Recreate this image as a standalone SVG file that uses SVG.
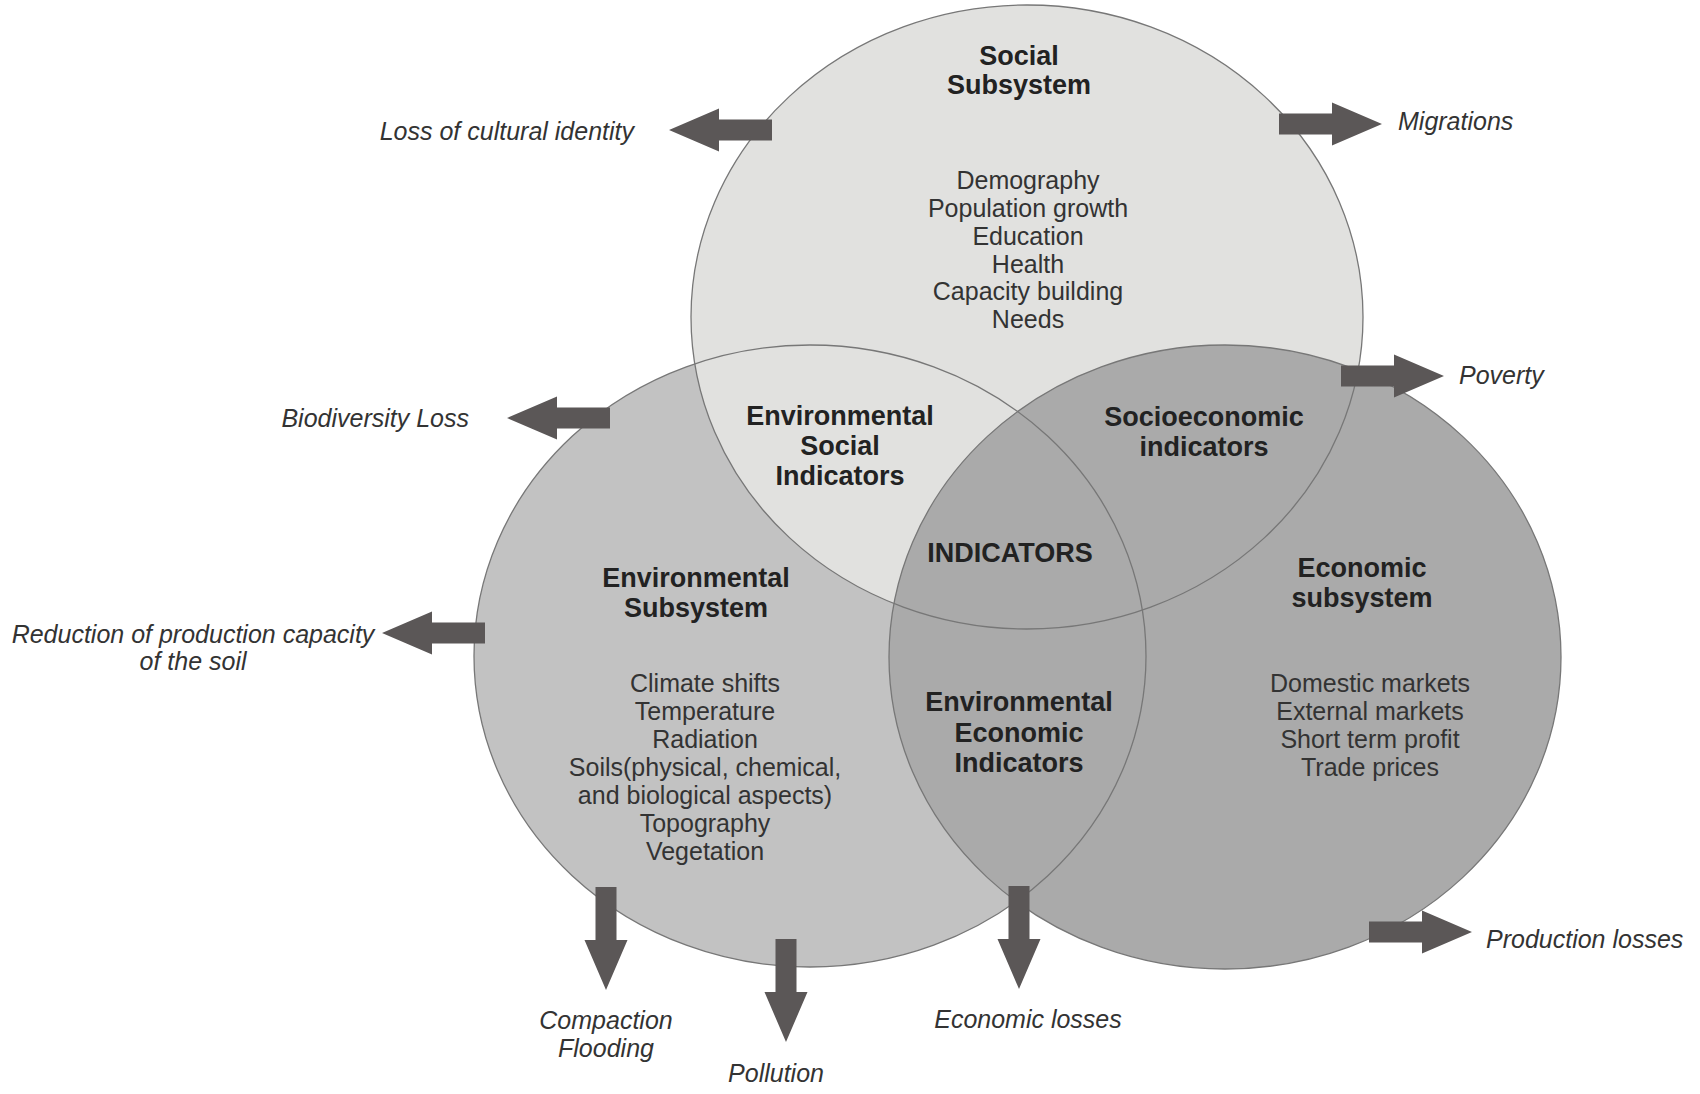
<svg xmlns="http://www.w3.org/2000/svg" xmlns:xlink="http://www.w3.org/1999/xlink" width="1700" height="1094" viewBox="0 0 1700 1094">
<style>
text{font-family:"Liberation Sans",Arial,sans-serif;fill:#2b2b2b}
.t{font-size:27px;font-weight:bold;text-anchor:middle;fill:#222}
.b{font-size:25px;text-anchor:middle;fill:#333}
.l{font-size:25px;font-style:italic;fill:#333}
.m{text-anchor:middle}
.e{text-anchor:end}
.ol{fill:none;stroke:#777;stroke-width:1.3}
.arr{fill:#5b5757}
</style>
<defs>
<path id="arrow" d="M0,-10.5 H53 V-21.5 L103,0 L53,21.5 V10.5 H0 Z"/>
</defs>
<rect width="1700" height="1094" fill="#fff"/>
<g id="environmental-subsystem">
<ellipse cx="810" cy="656" rx="336" ry="311" fill="#c2c2c2"/>
<text class="t" x="696" y="587">Environmental</text>
<text class="t" x="696" y="617">Subsystem</text>
<text class="b" x="705" y="692">Climate shifts</text>
<text class="b" x="705" y="720">Temperature</text>
<text class="b" x="705" y="748">Radiation</text>
<text class="b" x="705" y="776">Soils(physical, chemical,</text>
<text class="b" x="705" y="804">and biological aspects)</text>
<text class="b" x="705" y="832">Topography</text>
<text class="b" x="705" y="860">Vegetation</text>
</g>
<g id="social-subsystem">
<ellipse cx="1027" cy="317" rx="336" ry="312" fill="#e1e1df"/>
<text class="t" x="1019" y="65">Social</text>
<text class="t" x="1019" y="94">Subsystem</text>
<text class="b" x="1028" y="189">Demography</text>
<text class="b" x="1028" y="217">Population growth</text>
<text class="b" x="1028" y="245">Education</text>
<text class="b" x="1028" y="273">Health</text>
<text class="b" x="1028" y="300">Capacity building</text>
<text class="b" x="1028" y="328">Needs</text>
</g>
<g id="economic-subsystem">
<ellipse cx="1225" cy="657" rx="336" ry="312" fill="#aaaaaa"/>
<text class="t" x="1362" y="577">Economic</text>
<text class="t" x="1362" y="607">subsystem</text>
<text class="b" x="1370" y="692">Domestic markets</text>
<text class="b" x="1370" y="720">External markets</text>
<text class="b" x="1370" y="748">Short term profit</text>
<text class="b" x="1370" y="776">Trade prices</text>
</g>
<g id="outlines" class="ol">
<ellipse cx="810" cy="656" rx="336" ry="311"/>
<ellipse cx="1027" cy="317" rx="336" ry="312"/>
<ellipse cx="1225" cy="657" rx="336" ry="312"/>
</g>
<g id="environmental-social-indicators">
<text class="t" x="840" y="425">Environmental</text>
<text class="t" x="840" y="455">Social</text>
<text class="t" x="840" y="485">Indicators</text>
</g>
<g id="socioeconomic-indicators">
<text class="t" x="1204" y="426">Socioeconomic</text>
<text class="t" x="1204" y="456">indicators</text>
</g>
<g id="indicators">
<text class="t" x="1010" y="562">INDICATORS</text>
</g>
<g id="environmental-economic-indicators">
<text class="t" x="1019" y="711">Environmental</text>
<text class="t" x="1019" y="742">Economic</text>
<text class="t" x="1019" y="772">Indicators</text>
</g>
<g id="connectors" class="arr">
<use xlink:href="#arrow" href="#arrow" transform="translate(772,130) rotate(180)"/>
<use xlink:href="#arrow" href="#arrow" transform="translate(1279,124)"/>
<use xlink:href="#arrow" href="#arrow" transform="translate(1341,376)"/>
<use xlink:href="#arrow" href="#arrow" transform="translate(610,418) rotate(180)"/>
<use xlink:href="#arrow" href="#arrow" transform="translate(485,633) rotate(180)"/>
<use xlink:href="#arrow" href="#arrow" transform="translate(606,887) rotate(90)"/>
<use xlink:href="#arrow" href="#arrow" transform="translate(786,939) rotate(90)"/>
<use xlink:href="#arrow" href="#arrow" transform="translate(1019,886) rotate(90)"/>
<use xlink:href="#arrow" href="#arrow" transform="translate(1369,932)"/>
</g>
<g id="label-loss-cultural-identity"><text class="l e" x="634" y="140">Loss of cultural identity</text></g>
<g id="label-migrations"><text class="l" x="1398" y="130">Migrations</text></g>
<g id="label-poverty"><text class="l" x="1459" y="384">Poverty</text></g>
<g id="label-biodiversity-loss"><text class="l e" x="469" y="427">Biodiversity Loss</text></g>
<g id="label-reduction"><text class="l m" x="193" y="643">Reduction of production capacity</text><text class="l m" x="193" y="670">of the soil</text></g>
<g id="label-compaction-flooding"><text class="l m" x="606" y="1029">Compaction</text><text class="l m" x="606" y="1057">Flooding</text></g>
<g id="label-pollution"><text class="l m" x="776" y="1082">Pollution</text></g>
<g id="label-economic-losses"><text class="l m" x="1028" y="1028">Economic losses</text></g>
<g id="label-production-losses"><text class="l" x="1486" y="948">Production losses</text></g>
</svg>
